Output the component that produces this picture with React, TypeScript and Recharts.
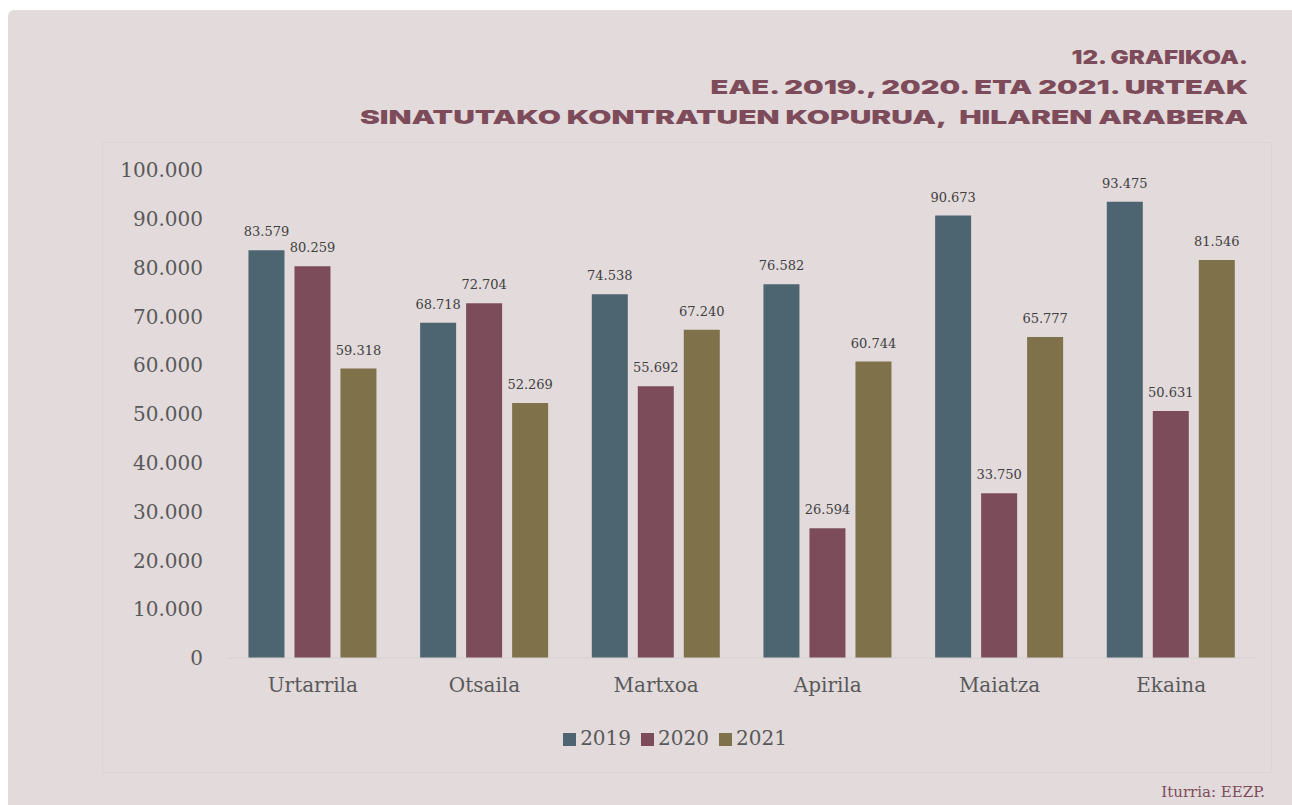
import { BarChart, Bar, XAxis, YAxis, Legend, LabelList } from "recharts";

const months = ["Urtarrila", "Otsaila", "Martxoa", "Apirila", "Maiatza", "Ekaina"];
const values2019 = [83579, 68718, 74538, 76582, 90673, 93475];
const values2020 = [80259, 72704, 55692, 26594, 33750, 50631];
const values2021 = [59318, 52269, 67240, 60744, 65777, 81546];
const yTicks = [0, 10000, 20000, 30000, 40000, 50000, 60000, 70000, 80000, 90000, 100000];
const titleLines = [
	"12. GRAFIKOA.",
	"EAE. 2019., 2020. ETA 2021. URTEAK",
	"SINATUTAKO KONTRATUEN KOPURUA,\u00a0 HILAREN ARABERA",
];

const data = months.map((m, i) => ({
	month: m,
	"2019": values2019[i],
	"2020": values2020[i],
	"2021": values2021[i],
}));

const fmt = (v: number) => v.toLocaleString("de-DE");

const serif = "'DejaVu Serif', 'Liberation Serif', serif";
const titleStyle = {
	fontFamily: "Inter, 'DejaVu Sans', sans-serif",
	fontWeight: 900,
	fontSize: 19,
	color: "#7d4b5a",
	lineHeight: "30px",
	textAlign: "right" as const,
};
const lineScale = [1.27, 1.53, 1.575];

const labelStyle = { fill: "#404040", fontSize: 13, fontFamily: serif };

const App = () => {
	return (
		<div
			style={{
				position: "absolute",
				left: 0,
				top: 0,
				width: 1292,
				height: 805,
				background: "#ffffff",
				overflow: "hidden",
			}}
		>
			<div
				style={{
					position: "absolute",
					left: 8,
					top: 10,
					width: 1300,
					height: 800,
					background: "#e2dadb",
					borderTopLeftRadius: 6,
				}}
			/>
			<div style={{ ...titleStyle, position: "absolute", right: 44, top: 43, width: 1100 }}>
				{titleLines.map((t, i) => (
					<div key={i} style={{ transform: `scaleX(${lineScale[i]})`, transformOrigin: "right" }}>
						{t}
					</div>
				))}
			</div>
			<div
				style={{
					position: "absolute",
					left: 102,
					top: 142,
					width: 1168,
					height: 629,
					border: "1px solid #dbd6d6",
				}}
			>
				<BarChart
					width={1168}
					height={629}
					data={data}
					margin={{ top: 27, right: 14, bottom: 22, left: 0 }}
					barCategoryGap="12.5%"
					barGap={10}
				>
					<XAxis
						dataKey="month"
						axisLine={{ stroke: "#d6d0d0" }}
						tickLine={false}
						tick={{ fill: "#595959", fontSize: 20, fontFamily: serif }}
						tickMargin={14}
						height={68}
					/>
					<YAxis
						ticks={yTicks}
						domain={[0, 100000]}
						tickFormatter={fmt}
						axisLine={false}
						tickLine={false}
						width={124}
						tickMargin={18}
						tick={{ fill: "#595959", fontSize: 20, fontFamily: serif }}
					/>
					<Legend
						verticalAlign="bottom"
						iconType="square"
						iconSize={13}
						wrapperStyle={{ fontFamily: serif, fontSize: 20, color: "#595959" }}
						formatter={(value: string) => <span style={{ color: "#595959" }}>{value}</span>}
					/>
					<Bar dataKey="2019" fill="#4d6570" isAnimationActive={false}>
						<LabelList dataKey="2019" position="top" offset={14} formatter={fmt} style={labelStyle} />
					</Bar>
					<Bar dataKey="2020" fill="#7d4c5a" isAnimationActive={false}>
						<LabelList dataKey="2020" position="top" offset={14} formatter={fmt} style={labelStyle} />
					</Bar>
					<Bar dataKey="2021" fill="#7f714a" isAnimationActive={false}>
						<LabelList dataKey="2021" position="top" offset={14} formatter={fmt} style={labelStyle} />
					</Bar>
				</BarChart>
			</div>
			<div
				style={{
					position: "absolute",
					right: 27,
					top: 783,
					fontFamily: serif,
					fontSize: 15,
					color: "#7d4b5a",
				}}
			>
				Iturria: EEZP.
			</div>
		</div>
	);
};

export default App;
